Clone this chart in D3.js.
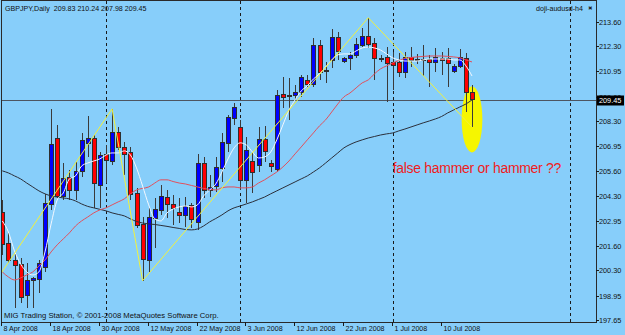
<!DOCTYPE html>
<html>
<head>
<meta charset="utf-8">
<script src="https://cdn.jsdelivr.net/npm/d3@7"></script>
<style>
  html, body { margin: 0; padding: 0; background: #87cefa; }
  svg { display: block; }
</style>
</head>
<body>
<div id="chart"></div>
<script>
// GBPJPY daily, one value per bar, bar 0 = 8 Apr 2008
var opens = [203.45,201.76,200.86,200.65,198.99,199.79,199.88,200.50,203.84,207.38,
  204.25,205.29,204.61,205.63,207.11,207.38,204.88,206.54,206.18,207.73,
  206.93,206.66,204.43,202.79,200.86,203.09,203.54,204.25,203.86,203.42,
  203.27,203.81,202.90,206.04,204.61,204.79,205.82,207.11,208.50,208.00,
  205.15,206.18,205.95,207.32,206.04,205.72,209.75,209.67,209.69,209.87,
  210.50,210.28,212.37,211.03,211.57,212.78,211.48,211.66,211.84,212.41,
  212.87,212.46,211.66,211.71,211.48,211.45,210.94,211.71,211.63,211.62,
  211.63,211.48,211.66,211.66,210.98,211.21,211.66,209.83];
var highs = [204.07,202.29,201.22,200.95,200.72,199.97,200.86,204.40,208.95,208.09,
  206.07,205.68,206.12,207.64,208.57,207.55,206.66,207.02,208.95,208.00,
  207.20,206.93,204.70,203.18,203.63,204.17,204.88,204.61,204.34,204.17,
  204.22,203.93,206.54,206.39,205.41,206.39,207.64,208.62,209.25,208.36,
  207.46,206.57,208.00,208.04,206.22,209.96,210.67,210.59,210.23,210.77,
  210.77,212.73,212.64,211.48,213.21,213.08,211.73,212.01,212.73,213.27,
  213.83,212.73,211.84,212.28,212.01,211.93,212.01,212.28,211.89,212.37,
  211.84,212.19,212.00,212.19,211.35,212.14,211.93,210.24];
var lows = [201.13,200.69,198.28,198.54,198.28,198.28,199.08,200.24,203.54,204.17,
  204.07,204.07,204.07,205.32,206.39,203.63,203.63,204.98,205.95,206.75,
  205.41,204.07,202.56,199.75,200.24,201.49,203.27,203.09,202.74,202.83,
  202.64,202.56,202.47,204.17,204.25,204.52,205.05,206.66,208.09,204.61,
  203.90,204.43,205.59,206.12,205.59,205.57,208.98,208.36,209.43,209.60,
  210.14,210.14,210.50,210.32,211.14,211.57,211.41,211.03,211.66,212.28,
  212.19,210.50,211.46,209.30,209.96,210.66,210.60,211.19,211.35,210.71,
  210.14,210.94,210.77,210.14,210.87,211.12,208.80,207.98];
var closes = [201.76,200.86,200.60,198.90,199.79,199.88,200.72,203.90,207.06,204.25,
  205.24,204.61,205.63,207.29,207.38,204.97,206.48,206.22,207.73,206.93,
  206.57,204.43,202.74,200.92,203.18,203.58,204.29,203.86,203.63,203.27,
  203.75,203.04,206.04,204.61,204.79,205.82,207.20,208.50,209.07,205.15,
  206.75,205.59,207.32,206.66,205.86,209.69,209.60,209.62,209.87,210.67,
  210.28,212.37,210.93,210.98,212.78,212.01,211.66,211.84,212.41,212.87,
  212.46,211.66,211.62,211.39,211.34,210.94,211.75,211.57,211.58,211.57,
  211.46,211.75,211.55,211.39,211.25,211.71,209.83,209.45];

// moving averages, one value per bar
var maWhite = [202.95,202.36,201.34,200.65,200.22,200.06,200.22,201.29,202.79,204.07,
  204.45,205.20,205.36,205.89,206.05,206.16,206.27,206.48,206.59,206.59,
  206.70,206.48,205.79,204.82,203.81,203.06,202.95,203.38,203.59,203.70,
  203.75,203.70,203.81,204.29,204.61,204.93,205.57,206.27,206.86,207.13,
  207.02,206.64,206.32,206.38,206.64,207.29,208.09,208.89,209.43,209.91,
  210.18,210.55,210.82,211.19,211.57,211.84,211.89,211.89,212.05,212.21,
  212.26,212.21,212.10,211.89,211.68,211.57,211.51,211.51,211.51,211.57,
  211.62,211.62,211.62,211.62,211.57,211.57,211.25,210.71];
var maRed = [200.22,199.95,199.79,199.90,200.06,200.22,200.54,200.86,201.29,201.67,
  201.99,202.31,202.68,202.95,203.16,203.38,203.54,203.65,203.81,203.97,
  204.13,204.40,204.61,204.69,204.77,204.98,205.15,205.15,205.06,204.98,
  204.93,204.85,204.77,204.69,204.64,204.61,204.72,204.77,204.77,204.72,
  204.72,204.77,204.98,205.15,205.36,205.57,205.84,206.16,206.54,206.91,
  207.29,207.66,208.04,208.36,208.78,209.21,209.59,209.80,210.07,210.34,
  210.50,210.82,211.09,211.25,211.41,211.54,211.65,211.70,211.73,211.76,
  211.78,211.78,211.78,211.76,211.73,211.68,211.57,211.46];
var maBlack = [205.63,205.52,205.36,205.20,204.98,204.77,204.56,204.40,204.29,204.23,
  204.18,204.13,204.02,203.86,203.73,203.65,203.57,203.49,203.38,203.30,
  203.22,203.06,202.92,202.84,202.79,202.76,202.71,202.66,202.60,202.55,
  202.49,202.47,202.52,202.68,202.90,203.08,203.27,203.49,203.65,203.75,
  203.86,203.97,204.10,204.23,204.40,204.56,204.72,204.88,205.04,205.20,
  205.36,205.57,205.79,206.05,206.32,206.59,206.86,207.04,207.18,207.29,
  207.39,207.47,207.55,207.61,207.66,207.77,207.87,207.98,208.09,208.20,
  208.30,208.41,208.54,208.73,208.89,209.05,209.21,209.43];

var zigzagBars = [-1, 18, 23, 60, 77];
var zigzagPrices = [199.76, 208.95, 199.75, 213.83, 207.98];

var dateLabels = ["8 Apr 2008", "18 Apr 2008", "30 Apr 2008", "12 May 2008", "22 May 2008",
  "3 Jun 2008", "12 Jun 2008", "22 Jun 2008", "1 Jul 2008", "10 Jul 2008"];
var dateBars = [0, 8, 16, 24, 32, 40, 48, 56, 64, 72];
var monthStartBars = [17, 39, 64, 93];
var priceTicks = [213.60, 212.30, 210.95, 209.60, 208.30, 206.95, 205.60, 204.30,
  202.95, 201.60, 200.30, 198.95, 197.65];
var lastPrice = 209.45;

// highlight around the last bar
var ellipseBars = [75.3, 78.7];
var ellipsePrices = [206.62, 210.16];
var noteText = "false hammer or hammer ??";
var noteBar = 64, notePrice = 205.49;

var width = 625, height = 335;
var plot = { left: 2, right: 596, top: 1, bottom: 322 };
var font = "'Liberation Sans', Arial, sans-serif";

var x = d3.scaleLinear().domain([0, 77]).range([2.3, 472]);
var y = d3.scaleLinear().domain([197.54, 214.67]).range([322, 2]);

var svg = d3.select("#chart").append("svg")
    .attr("width", width)
    .attr("height", height);

svg.append("rect")
    .attr("width", width)
    .attr("height", height)
    .style("fill", "#87cefa");

svg.append("clipPath")
    .attr("id", "plotClip")
  .append("rect")
    .attr("x", plot.left)
    .attr("y", plot.top)
    .attr("width", plot.right - plot.left)
    .attr("height", plot.bottom - plot.top);

var gPlot = svg.append("g").attr("clip-path", "url(#plotClip)");

// month separators
gPlot.selectAll(".grid")
  .data(monthStartBars)
  .enter().append("line")
    .attr("x1", function(d) { return Math.round(x(d)) + 0.5; })
    .attr("x2", function(d) { return Math.round(x(d)) + 0.5; })
    .attr("y1", plot.top)
    .attr("y2", plot.bottom)
    .style("stroke", "#1a1a1a")
    .style("stroke-dasharray", "3,3");

// bid line
gPlot.append("line")
    .attr("x1", plot.left)
    .attr("x2", plot.right)
    .attr("y1", Math.round(y(lastPrice)) + 0.5)
    .attr("y2", Math.round(y(lastPrice)) + 0.5)
    .style("stroke", "#4d5560")
    .style("stroke-width", 1.2);

// yellow highlight
gPlot.append("ellipse")
    .attr("cx", (x(ellipseBars[0]) + x(ellipseBars[1])) / 2)
    .attr("cy", (y(ellipsePrices[0]) + y(ellipsePrices[1])) / 2)
    .attr("rx", (x(ellipseBars[1]) - x(ellipseBars[0])) / 2)
    .attr("ry", (y(ellipsePrices[0]) - y(ellipsePrices[1])) / 2)
    .style("fill", "#f6f600");

// candles
var candle = gPlot.selectAll(".candle")
  .data(d3.range(opens.length))
  .enter().append("g")
    .attr("class", "candle");

candle.append("line")
    .attr("x1", function(i) { return Math.round(x(i)) + 0.5; })
    .attr("x2", function(i) { return Math.round(x(i)) + 0.5; })
    .attr("y1", function(i) { return Math.round(y(highs[i])); })
    .attr("y2", function(i) { return Math.round(y(lows[i])); })
    .style("stroke", "#3a3a3a");

candle.append("rect")
    .attr("x", function(i) { return Math.round(x(i)) - 1.5; })
    .attr("width", 4)
    .attr("y", function(i) { return Math.round(y(Math.max(opens[i], closes[i]))) + 0.5; })
    .attr("height", function(i) {
      return Math.max(1, Math.round(Math.abs(y(opens[i]) - y(closes[i]))));
    })
    .style("fill", function(i) { return closes[i] < opens[i] ? "#ff0000" : "#0000ff"; })
    .style("stroke", "#2e2e2e")
    .style("stroke-width", 1);

// indicators
var maLine = d3.line()
    .x(function(d, i) { return x(i); })
    .y(function(d) { return y(d); })
    .curve(d3.curveMonotoneX);

gPlot.append("path")
    .attr("d", maLine(maBlack))
    .style("fill", "none")
    .style("stroke", "#2b2f3a")
    .style("stroke-width", 1);

gPlot.append("path")
    .attr("d", maLine(maRed))
    .style("fill", "none")
    .style("stroke", "#e2505c")
    .style("stroke-width", 1);

gPlot.append("path")
    .attr("d", maLine(maWhite))
    .style("fill", "none")
    .style("stroke", "#f4f8ff")
    .style("stroke-width", 1);

var zigzag = d3.line()
    .x(function(d) { return x(d); })
    .y(function(d, i) { return y(zigzagPrices[i]); });

gPlot.append("path")
    .attr("d", zigzag(zigzagBars))
    .style("fill", "none")
    .style("stroke", "#f2f23c")
    .style("stroke-width", 1);

// note
svg.append("text")
    .attr("x", x(noteBar))
    .attr("y", y(notePrice))
    .style("font-family", font)
    .style("font-size", "14px")
    .style("letter-spacing", "-0.3px")
    .style("fill", "#f01c1c")
    .text(noteText);

// frame
svg.append("rect")
    .attr("x", plot.left - 0.5)
    .attr("y", plot.top - 0.5)
    .attr("width", plot.right - plot.left + 1)
    .attr("height", plot.bottom - plot.top + 1)
    .style("fill", "none")
    .style("stroke", "#2a2a2a");

// price axis
var yTick = svg.append("g").selectAll("g")
  .data(priceTicks)
  .enter().append("g")
    .attr("transform", function(d) { return "translate(0," + (Math.round(y(d)) + 0.5) + ")"; });

yTick.append("line")
    .attr("x1", plot.right)
    .attr("x2", plot.right + 3)
    .style("stroke", "#1a1a1a");

yTick.append("text")
    .attr("x", plot.right + 3)
    .attr("dy", "0.35em")
    .style("font-family", font)
    .style("font-size", "7.3px")
    .style("fill", "#111")
    .text(function(d) { return d.toFixed(2); });

var lastY = Math.round(y(lastPrice)) + 0.5;
svg.append("rect")
    .attr("x", plot.right + 1)
    .attr("y", lastY - 5)
    .attr("width", 27)
    .attr("height", 10)
    .style("fill", "#000");

svg.append("text")
    .attr("x", plot.right + 3)
    .attr("y", lastY)
    .attr("dy", "0.35em")
    .style("font-family", font)
    .style("font-size", "7.3px")
    .style("fill", "#fff")
    .text(lastPrice.toFixed(2));

// time axis
var xTick = svg.append("g").selectAll("g")
  .data(dateBars)
  .enter().append("g")
    .attr("transform", function(d) { return "translate(" + (Math.round(x(d)) - 0.5) + ",0)"; });

xTick.append("line")
    .attr("y1", plot.bottom)
    .attr("y2", plot.bottom + 4)
    .style("stroke", "#1a1a1a");

xTick.append("text")
    .attr("x", 2)
    .attr("y", 331)
    .style("font-family", font)
    .style("font-size", "7.1px")
    .style("fill", "#111")
    .text(function(d, i) { return dateLabels[i]; });

// captions
svg.append("text")
    .attr("x", 5)
    .attr("y", 10.5)
    .style("font-family", font)
    .style("font-size", "7.1px")
    .style("white-space", "pre")
    .style("fill", "#111")
    .text("GBPJPY,Daily  209.83 210.24 207.98 209.45");

svg.append("text")
    .attr("x", 583)
    .attr("y", 10.5)
    .attr("text-anchor", "end")
    .style("font-family", font)
    .style("font-size", "7.1px")
    .style("fill", "#111")
    .text("doji-audusd-h4");

svg.append("text")
    .attr("x", 588)
    .attr("y", 10)
    .style("font-family", "'DejaVu Sans', sans-serif")
    .style("font-size", "5.5px")
    .style("fill", "#222")
    .text("\u2716");

svg.append("text")
    .attr("x", 4)
    .attr("y", 318)
    .style("font-family", font)
    .style("font-size", "7.7px")
    .style("fill", "#111")
    .text("MIG Trading Station, \u00a9 2001-2008 MetaQuotes Software Corp.");
</script>
</body>
</html>
